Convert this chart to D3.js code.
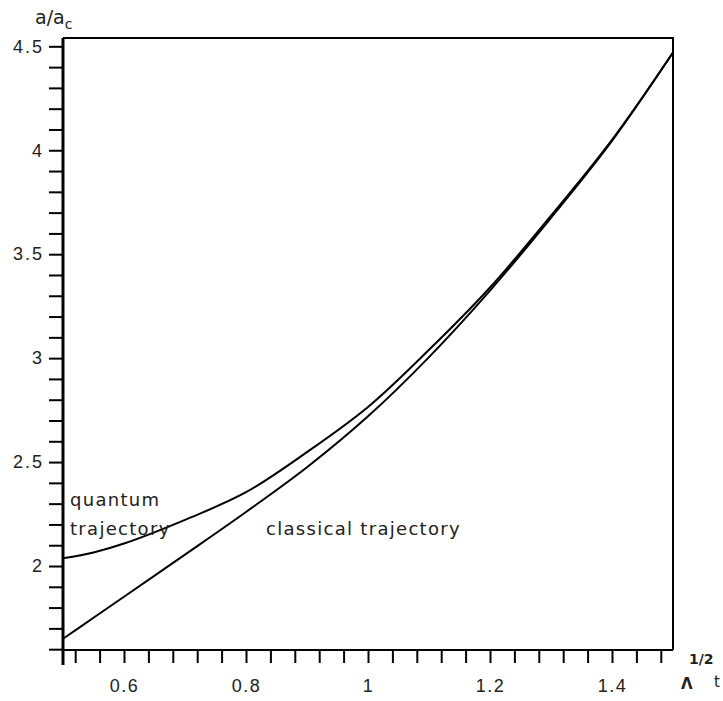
<!DOCTYPE html>
<html>
<head>
<meta charset="utf-8">
<script src="https://cdn.jsdelivr.net/npm/d3@7"></script>
<style>
    body { margin: 0; background: #fff; }
    svg { display: block; font-family: 'DejaVu Sans', sans-serif; }
    .axis path, .axis line { stroke: #000; }
</style>
</head>
<body>
<div id="chart"></div>
<script>
    // values
    const xValues = [0.5, 0.55, 0.6, 0.7, 0.8, 0.9, 1.0, 1.1, 1.2, 1.3, 1.4, 1.5];
    const classical = [1.65, 1.751, 1.852, 2.055, 2.26, 2.475, 2.72, 3.005, 3.325, 3.675, 4.045, 4.47];
    const quantum = [2.037, 2.065, 2.108, 2.222, 2.355, 2.548, 2.765, 3.04, 3.34, 3.685, 4.05, 4.47];

    const xTickLabels = [0.6, 0.8, 1, 1.2, 1.4];
    const yTickLabels = [2, 2.5, 3, 3.5, 4, 4.5];

    const width = 723;
    const height = 701;
    const margin = { top: 38, right: 50, bottom: 51, left: 63 };

    const svg = d3.select('#chart').append('svg')
        .attr('width', width)
        .attr('height', height);

    const x = d3.scaleLinear()
        .domain([0.5, 1.5])
        .range([margin.left, width - margin.right]);

    const y = d3.scaleLinear()
        .domain([1.596, 4.54])
        .range([height - margin.bottom, margin.top]);

    // minor ticks every 0.04 on x, every 0.1 on y
    const xTicks = d3.range(13, 38).map(i => +(i * 0.04).toFixed(2));
    const yTicks = d3.range(16, 46).map(i => +(i * 0.1).toFixed(1));

    const isLabel = (list, v) => list.some(l => Math.abs(l - v) < 1e-6);

    const xAxis = svg.append('g')
        .attr('class', 'axis')
        .attr('transform', `translate(0,${y.range()[0]})`)
        .call(d3.axisBottom(x)
            .tickValues(xTicks)
            .tickSize(13)
            .tickPadding(16)
            .tickFormat(d => isLabel(xTickLabels, d) ? d3.format('')(d) : ''));
    xAxis.select('.domain').attr('stroke-width', 2).attr('d', `M${x(0.5)},0H${x(1.5)}`);
    xAxis.selectAll('line').attr('stroke-width', 2);
    xAxis.selectAll('text')
        .attr('font-size', 18)
        .attr('letter-spacing', 1.5)
        .attr('fill', '#222');

    const yAxis = svg.append('g')
        .attr('class', 'axis')
        .attr('transform', `translate(${x.range()[0]},0)`)
        .call(d3.axisLeft(y)
            .tickValues(yTicks)
            .tickSize(14)
            .tickPadding(5)
            .tickFormat(d => isLabel(yTickLabels, d) ? d3.format('')(d) : ''));
    yAxis.select('.domain').attr('stroke-width', 3).attr('d', `M0,${y.range()[1]}V${y.range()[0] + 15}`);
    yAxis.selectAll('line').attr('stroke-width', 2);
    yAxis.selectAll('text')
        .attr('font-size', 18)
        .attr('letter-spacing', 2)
        .attr('fill', '#222');

    // frame, top and right
    svg.append('path')
        .attr('d', `M${x(0.5)},${y.range()[1]}H${x(1.5)}V${y.range()[0]}`)
        .attr('fill', 'none')
        .attr('stroke', '#000')
        .attr('stroke-width', 2);

    const line = d3.line()
        .x((d, i) => x(xValues[i]))
        .y(d => y(d))
        .curve(d3.curveCatmullRom.alpha(0.5));

    [classical, quantum].forEach(series => {
        svg.append('path')
            .datum(series)
            .attr('fill', 'none')
            .attr('stroke', '#000')
            .attr('stroke-width', 2)
            .attr('d', line);
    });

    // curve labels
    const labelStyle = t => t.attr('font-size', 18).attr('letter-spacing', 1.3).attr('fill', '#222');
    svg.append('text').attr('x', 70).attr('y', 506).text('quantum').call(labelStyle);
    svg.append('text').attr('x', 70).attr('y', 535).text('trajectory').call(labelStyle);
    svg.append('text').attr('x', 266).attr('y', 535).text('classical trajectory').call(labelStyle);

    // y axis title a/a_c
    const yTitle = svg.append('text')
        .attr('x', 35)
        .attr('y', 24)
        .attr('font-size', 19)
        .attr('fill', '#222');
    yTitle.append('tspan').text('a/a');
    yTitle.append('tspan').attr('font-size', 14).attr('dy', 5).text('c');

    // x axis title Λ_t^(1/2)
    svg.append('text')
        .attr('x', 689).attr('y', 664)
        .attr('font-size', 14).attr('font-weight', 'bold')
        .attr('fill', '#222')
        .text('1/2');
    svg.append('text')
        .attr('x', 681).attr('y', 689)
        .attr('font-size', 15).attr('font-weight', 'bold')
        .attr('fill', '#222')
        .text('Λ');
    svg.append('text')
        .attr('x', 714).attr('y', 687)
        .attr('font-size', 15)
        .attr('fill', '#222')
        .text('t');
</script>
</body>
</html>
